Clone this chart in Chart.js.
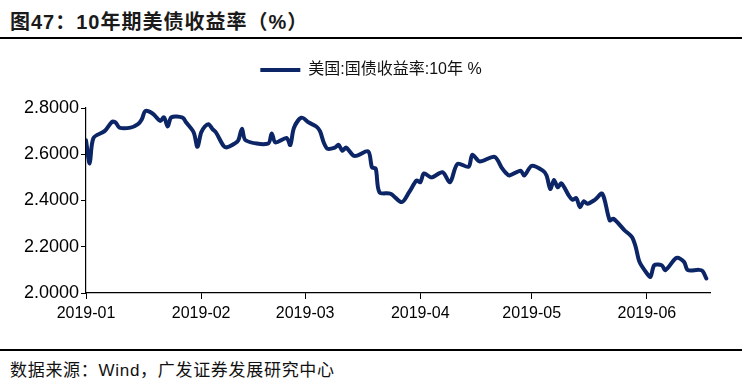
<!DOCTYPE html>
<html lang="zh">
<head>
    <meta charset="UTF-8">
    <title>10年期美债收益率</title>
    <script src="https://cdn.jsdelivr.net/npm/chart.js"></script>
    <style>
        body {
            margin: 0;
            width: 742px;
            height: 385px;
            background: #fff;
            font-family: "Liberation Sans", "Noto Sans CJK SC", sans-serif;
            position: relative;
            overflow: hidden;
        }
        #title {
            position: absolute;
            left: 10px;
            top: 6px;
            font-size: 20px;
            font-weight: bold;
            letter-spacing: 1px;
            color: #1a1a1a;
        }
        .rule {
            position: absolute;
            left: 0;
            width: 742px;
            height: 1.5px;
            background: #000;
        }
        #chartBox {
            position: absolute;
            left: 0;
            top: 40px;
            width: 742px;
            height: 300px;
        }
        #source {
            position: absolute;
            left: 10px;
            top: 356px;
            font-size: 17px;
            letter-spacing: 0.7px;
            color: #111;
        }
    </style>
</head>
<body>
    <div id="title">图47：10年期美债收益率（%）</div>
    <div class="rule" style="top:37px"></div>
    <div id="chartBox"><canvas id="yieldChart"></canvas></div>
    <div class="rule" style="top:349px"></div>
    <div id="source">数据来源：Wind，广发证券发展研究中心</div>

    <script>
        const seriesName = '美国:国债收益率:10年 %';

        const dates = [
            '2019-01-01', '2019-01-02', '2019-01-03', '2019-01-06', '2019-01-08', '2019-01-09',
            '2019-01-10', '2019-01-13', '2019-01-15', '2019-01-16', '2019-01-17', '2019-01-19',
            '2019-01-21', '2019-01-22', '2019-01-23', '2019-01-24', '2019-01-27', '2019-01-28',
            '2019-01-30', '2019-01-31', '2019-02-01', '2019-02-02', '2019-02-03', '2019-02-04',
            '2019-02-05', '2019-02-07', '2019-02-08', '2019-02-10', '2019-02-11', '2019-02-12',
            '2019-02-13', '2019-02-19', '2019-02-20', '2019-02-21', '2019-02-24', '2019-02-25',
            '2019-02-26', '2019-02-28', '2019-03-02', '2019-03-04', '2019-03-05', '2019-03-06',
            '2019-03-07', '2019-03-09', '2019-03-10', '2019-03-11', '2019-03-12', '2019-03-14',
            '2019-03-15', '2019-03-18', '2019-03-19', '2019-03-20', '2019-03-21', '2019-03-24',
            '2019-03-27', '2019-03-29', '2019-03-31', '2019-04-01', '2019-04-02', '2019-04-04',
            '2019-04-07', '2019-04-09', '2019-04-11', '2019-04-14', '2019-04-15', '2019-04-17',
            '2019-04-21', '2019-04-23', '2019-04-24', '2019-04-25', '2019-04-28', '2019-04-29',
            '2019-05-01', '2019-05-04', '2019-05-05', '2019-05-06', '2019-05-07', '2019-05-08',
            '2019-05-09', '2019-05-11', '2019-05-12', '2019-05-13', '2019-05-14', '2019-05-15',
            '2019-05-16', '2019-05-18', '2019-05-20', '2019-05-22', '2019-05-23', '2019-05-26',
            '2019-05-28', '2019-05-29', '2019-05-30', '2019-06-01', '2019-06-02', '2019-06-03',
            '2019-06-05', '2019-06-06', '2019-06-09', '2019-06-11', '2019-06-12', '2019-06-15',
            '2019-06-16', '2019-06-17'
        ];

        const yields = [
            2.660, 2.560, 2.670, 2.700, 2.740, 2.737,
            2.715, 2.715, 2.730, 2.750, 2.787, 2.775,
            2.744, 2.760, 2.720, 2.760, 2.758, 2.737,
            2.694, 2.632, 2.694, 2.720, 2.730, 2.710,
            2.694, 2.637, 2.630, 2.646, 2.660, 2.710,
            2.660, 2.646, 2.690, 2.651, 2.670, 2.640,
            2.715, 2.758, 2.737, 2.720, 2.700, 2.651,
            2.624, 2.629, 2.641, 2.615, 2.629, 2.594,
            2.594, 2.612, 2.543, 2.538, 2.436, 2.429,
            2.393, 2.436, 2.486, 2.479, 2.517, 2.500,
            2.522, 2.479, 2.558, 2.546, 2.598, 2.569,
            2.589, 2.540, 2.520, 2.508, 2.529, 2.508,
            2.550, 2.529, 2.508, 2.450, 2.489, 2.457,
            2.474, 2.421, 2.403, 2.410, 2.371, 2.397,
            2.386, 2.403, 2.429, 2.314, 2.321, 2.271,
            2.242, 2.199, 2.135, 2.085, 2.070, 2.120,
            2.120, 2.099, 2.152, 2.135, 2.099, 2.100,
            2.095, 2.063
        ];

        const monthLabels = ['2019-01', '2019-02', '2019-03', '2019-04', '2019-05', '2019-06'];
        const yTicks = [2.0, 2.2, 2.4, 2.6, 2.8];

        // days since 2019-01-01, so the x axis is a plain linear day scale
        function dayIndex(str) {
            const p = str.split('-').map(Number);
            return (Date.UTC(p[0], p[1] - 1, p[2] || 1) - Date.UTC(2019, 0, 1)) / 86400000;
        }

        const points = dates.map((d, i) => ({ x: dayIndex(d), y: yields[i] }));
        const monthPos = monthLabels.map(dayIndex);
        const navy = '#0b2566';

        // extra room under the legend, and centre it on the whole canvas
        const legendGap = {
            id: 'legendGap',
            beforeInit(chart) {
                const fit = chart.legend.fit;
                chart.legend.fit = function () {
                    fit.call(this);
                    this.height += 20;
                };
            },
            afterLayout(chart) {
                chart.legend.left += 16;
                chart.legend.right += 16;
            }
        };

        new Chart(document.getElementById('yieldChart'), {
            type: 'line',
            plugins: [legendGap],
            data: {
                datasets: [{
                    label: seriesName,
                    data: points,
                    borderColor: navy,
                    backgroundColor: navy,
                    borderWidth: 4,
                    pointRadius: 0,
                    tension: 0.3,
                    borderJoinStyle: 'round',
                    borderCapStyle: 'round'
                }]
            },
            options: {
                responsive: true,
                maintainAspectRatio: false,
                animation: false,
                layout: { padding: { left: 0, right: 32, top: 8, bottom: 0 } },
                plugins: {
                    tooltip: { enabled: false },
                    legend: {
                        position: 'top',
                        labels: {
                            color: '#111',
                            boxWidth: 40,
                            boxHeight: 4,
                            padding: 14,
                            font: { family: '"Liberation Sans", "Noto Sans CJK SC", sans-serif', size: 16 },
                            generateLabels: chart => {
                                const items = Chart.defaults.plugins.legend.labels.generateLabels(chart);
                                items.forEach(it => { it.lineWidth = 0; });
                                return items;
                            }
                        }
                    }
                },
                scales: {
                    x: {
                        type: 'linear',
                        min: 0,
                        max: 168,
                        afterBuildTicks: axis => {
                            axis.ticks = monthPos.map(v => ({ value: v }));
                        },
                        afterFit: axis => { axis.height = 47; },
                        ticks: {
                            autoSkip: false,
                            maxRotation: 0,
                            padding: 5,
                            color: '#000',
                            font: { family: '"Liberation Sans", Arial, sans-serif', size: 16 },
                            callback: v => monthLabels[monthPos.indexOf(v)]
                        },
                        grid: {
                            drawOnChartArea: false,
                            drawTicks: true,
                            tickLength: 6,
                            color: '#000'
                        },
                        border: { color: '#000', width: 1.2 }
                    },
                    y: {
                        min: 2.0,
                        max: 2.8,
                        afterBuildTicks: axis => {
                            axis.ticks = yTicks.map(v => ({ value: v }));
                        },
                        afterFit: axis => { axis.width = 86; },
                        ticks: {
                            padding: 2,
                            color: '#000',
                            font: { family: '"Liberation Sans", Arial, sans-serif', size: 18 },
                            callback: v => Number(v).toFixed(4)
                        },
                        grid: {
                            drawOnChartArea: false,
                            drawTicks: true,
                            tickLength: 5,
                            color: '#000'
                        },
                        border: { color: '#000', width: 1.2 }
                    }
                }
            }
        });
    </script>
</body>
</html>
